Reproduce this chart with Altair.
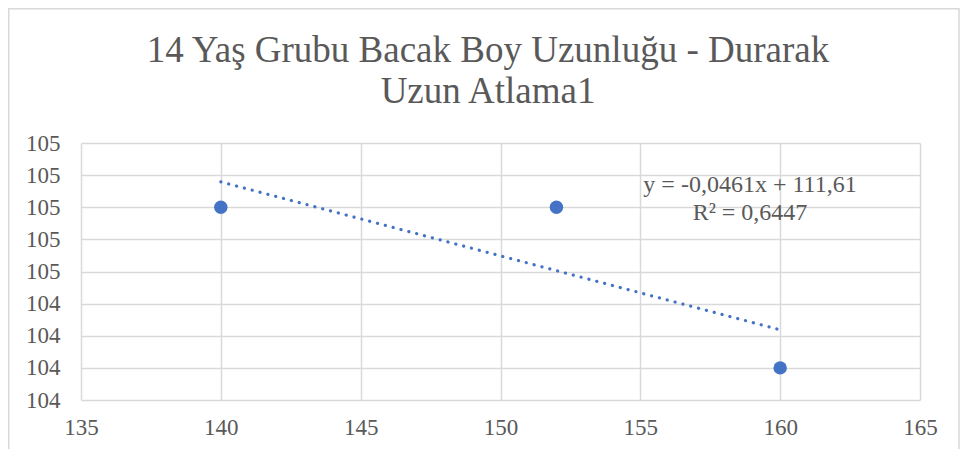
import altair as alt
import pandas as pd

# Data
x_values = [140, 152, 160]
y_values = [105, 105, 104]
title_lines = ["14 Yaş Grubu Bacak Boy Uzunluğu - Durarak", "Uzun Atlama1"]
equation_text = "y = -0,0461x + 111,61"
r2_text = "R² = 0,6447"
x_ticks = [135, 140, 145, 150, 155, 160, 165]
y_ticks = [103.8, 104.0, 104.2, 104.4, 104.6, 104.8, 105.0, 105.2, 105.4]

df = pd.DataFrame({"x": x_values, "y": y_values})

BLUE = "#4472C4"
GRAY_TEXT = "#595959"
GRID = "#d9d9d9"
FONT = "Liberation Serif"

x_enc = alt.X("x:Q", scale=alt.Scale(domain=[135, 165], nice=False, zero=False),
              axis=alt.Axis(values=x_ticks, title=None, grid=True, domain=False, ticks=False,
                            labelPadding=16, format="d", labelFlush=False))
y_enc = alt.Y("y:Q", scale=alt.Scale(domain=[103.8, 105.4], nice=False, zero=False),
              axis=alt.Axis(values=y_ticks, title=None, grid=True, domain=False, ticks=False,
                            labelPadding=21, format=".0f", labelFlush=False))

border = alt.Chart(alt.Data(values=[{"k": 1}])).mark_rect(
    fillOpacity=0, stroke=GRID, strokeWidth=1.5, strokeOpacity=1
).encode(x=alt.value(-72.25), x2=alt.value(878), y=alt.value(-134.25), y2=alt.value(340))

points = alt.Chart(df).mark_circle(size=180, color=BLUE, opacity=1).encode(x=x_enc, y=y_enc)

trend = alt.Chart(df).transform_regression("x", "y", method="linear").mark_line(
    color=BLUE, strokeWidth=3.2, strokeDash=[0.1, 8], strokeCap="round"
).encode(x=x_enc, y=y_enc)

eq = alt.Chart(alt.Data(values=[{"t": equation_text}])).mark_text(
    font=FONT, fontSize=24, color=GRAY_TEXT, align="center", baseline="alphabetic"
).encode(x=alt.value(669), y=alt.value(49), text="t:N")

r2 = alt.Chart(alt.Data(values=[{"t": r2_text}])).mark_text(
    font=FONT, fontSize=24, color=GRAY_TEXT, align="center", baseline="alphabetic"
).encode(x=alt.value(669), y=alt.value(77), text="t:N")

title1 = alt.Chart(alt.Data(values=[{"t": title_lines[0]}])).mark_text(
    font=FONT, fontSize=37, color=GRAY_TEXT, align="center", baseline="alphabetic"
).encode(x=alt.value(407), y=alt.value(-81), text="t:N")

title2 = alt.Chart(alt.Data(values=[{"t": title_lines[1]}])).mark_text(
    font=FONT, fontSize=37, color=GRAY_TEXT, align="center", baseline="alphabetic"
).encode(x=alt.value(407), y=alt.value(-40), text="t:N")

chart = alt.layer(border, trend, points, eq, r2, title1, title2).properties(
    width=839, height=257,
    autosize=alt.AutoSizeParams(type="none"),
    padding={"left": 73, "top": 135, "right": 40, "bottom": 49},
).configure_view(stroke=None).configure_axis(
    gridColor=GRID, gridWidth=1.5, labelFont=FONT, labelFontSize=23, labelColor=GRAY_TEXT
)

chart.save("out.html", embed_options={"renderer": "svg", "actions": False})
